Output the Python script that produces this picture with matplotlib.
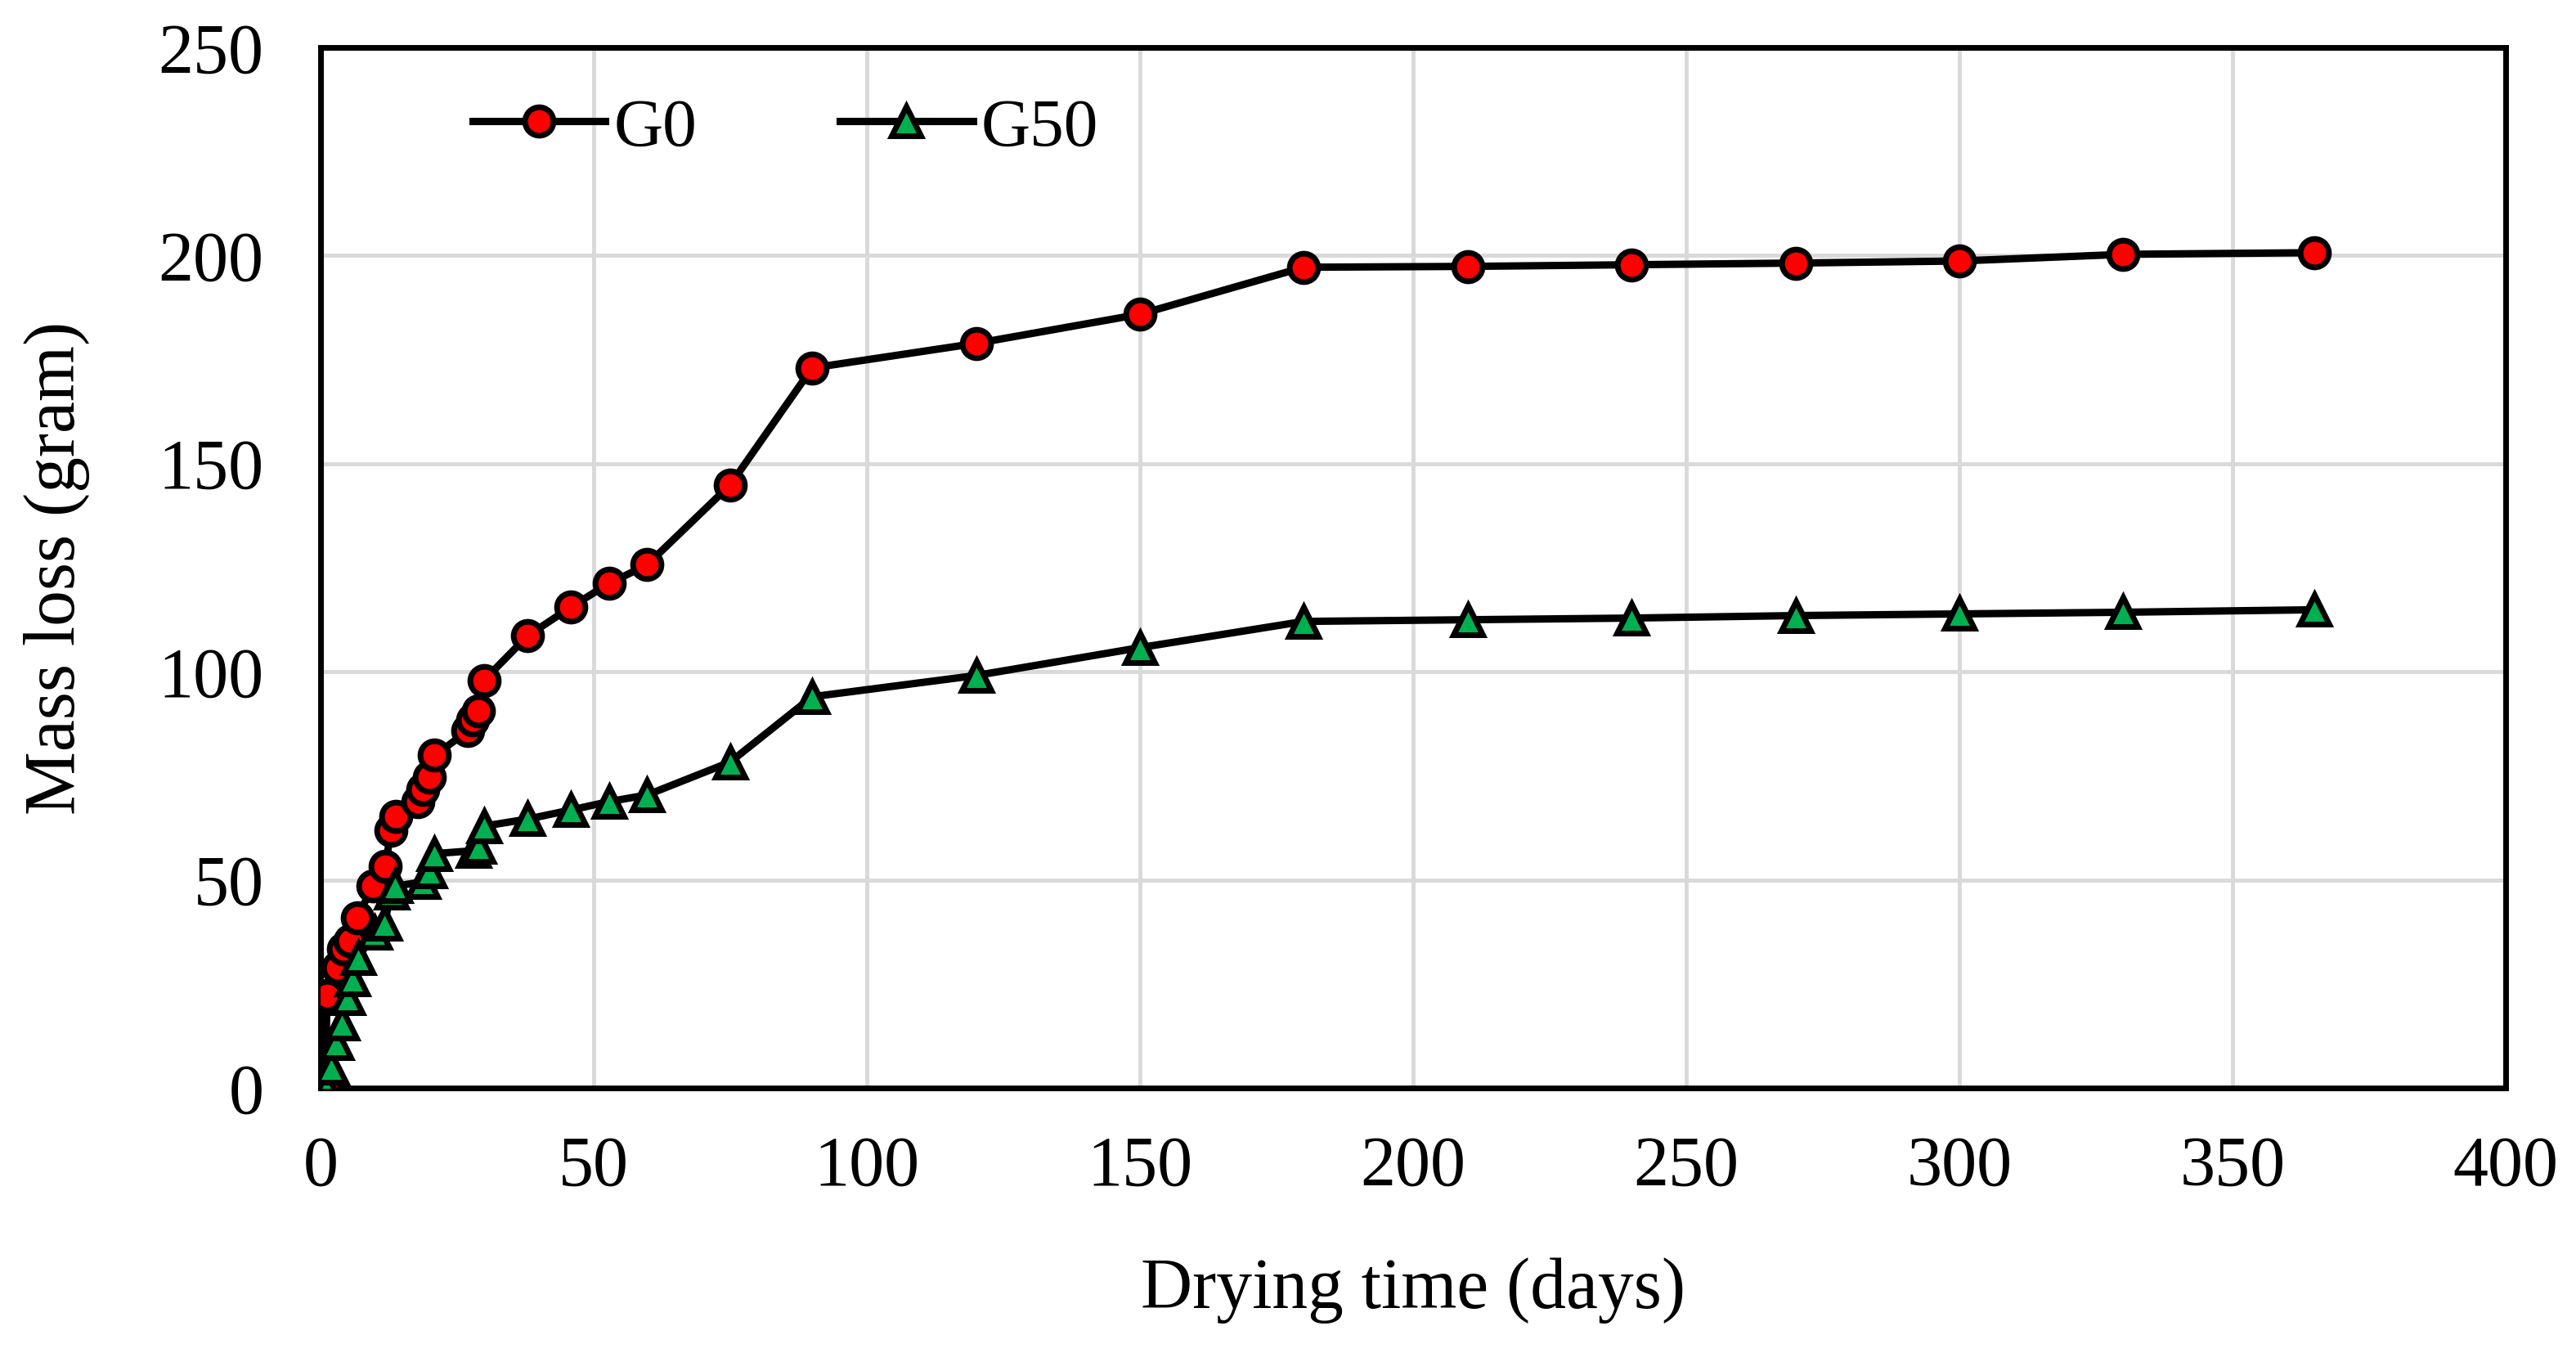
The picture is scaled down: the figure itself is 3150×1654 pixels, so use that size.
import matplotlib
matplotlib.use('Agg')
import matplotlib.pyplot as plt

plt.rcParams['font.family'] = ['Liberation Serif', 'DejaVu Serif']

# 乾燥日数と質量減少量
g0_days = [0.9, 1.2, 3.2, 4.2, 5.4, 6.7, 9.6, 11.9, 12.9, 13.8, 17.9, 18.7, 19.9, 20.9,
           27.0, 27.9, 28.9, 29.9, 37.9, 45.9, 52.8, 59.8, 75, 90, 120, 150, 180,
           210, 240, 270, 300, 330, 365]
g0_loss = [0, 22.3, 28.8, 33.4, 35.4, 40.9, 48.5, 53.3, 61.9, 65.2, 68.8, 71.7, 74.7, 79.9,
           85.8, 88.4, 90.7, 97.9, 108.6, 115.6, 121.2, 125.7, 144.9, 173.0, 178.9, 185.9, 197.2,
           197.4, 197.8, 198.2, 198.7, 200.3, 200.7]

g50_days = [1, 1.9, 2.9, 3.9, 4.9, 5.9, 6.9, 9.9, 11.7, 13.0, 13.7, 18.7, 19.9, 20.9,
            28.0, 28.9, 29.9, 37.9, 45.9, 52.8, 59.8, 75, 90, 120, 150, 180,
            210, 240, 270, 300, 330, 365]
g50_loss = [0, 4.9, 10.8, 15.6, 21.6, 26.1, 31.3, 37.3, 39.6, 47.0, 48.5, 49.5, 52.0, 56.3,
            57.0, 58.0, 62.9, 64.6, 66.8, 68.8, 70.4, 78.3, 94.0, 99.1, 105.8, 112.1,
            112.5, 112.9, 113.5, 113.9, 114.3, 114.9]

fig = plt.figure(figsize=(31.5, 16.54), dpi=100)
ax = fig.add_axes([0.1244, 0.1959, 0.8483, 0.769])

ax.plot(g0_days, g0_loss, color='black', linewidth=6.5, marker='o', markersize=25,
        markerfacecolor='#ff0000', markeredgecolor='black', markeredgewidth=5, label='G0', zorder=3)
ax.plot(g50_days, g50_loss, color='black', linewidth=6.5, marker='^', markersize=26,
        markerfacecolor='#00b050', markeredgecolor='black', markeredgewidth=5, label='G50', zorder=3)

ax.set_xlim(0, 400)
ax.set_ylim(0, 250)
ax.set_xticks(range(0, 401, 50))
ax.set_yticks(range(0, 251, 50))
ax.grid(True, color='#d9d9d9', linewidth=3.5)
ax.set_axisbelow(True)
for s in ax.spines.values():
    s.set_linewidth(5)
    s.set_color('black')
ax.tick_params(axis='both', length=0, labelsize=62)
ax.tick_params(axis='x', pad=42)
ax.tick_params(axis='y', pad=50)

ax.set_xlabel('Drying time (days)', fontsize=63, labelpad=50)
ax.set_ylabel('Mass loss (gram)', fontsize=63, labelpad=60)

ax.legend(loc='center left', bbox_to_anchor=(0.054, 0.922), ncol=2, frameon=False,
          fontsize=60, handlelength=1.95, handletextpad=0.12, columnspacing=2.1, borderpad=0)

fig.savefig('out.png', dpi=100)
